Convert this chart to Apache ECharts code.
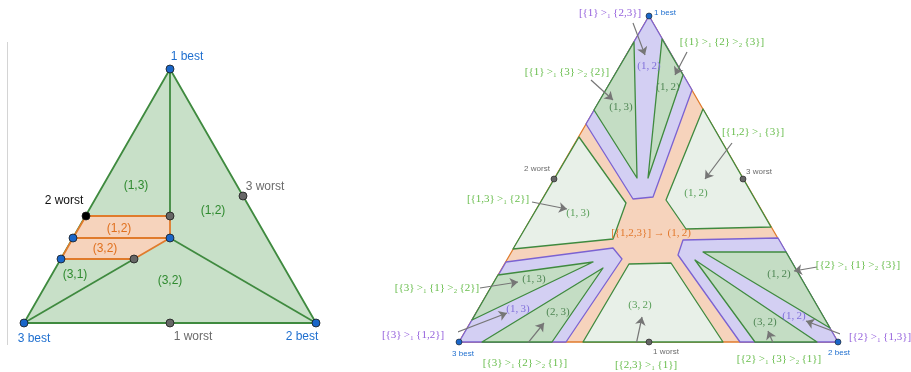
<!DOCTYPE html>
<html>
<head>
<meta charset="utf-8">
<script src="https://cdn.jsdelivr.net/npm/echarts@6/dist/echarts.min.js"></script>
<style>
html, body { margin: 0; padding: 0; background: #fff; }
#main { width: 911px; height: 372px; }
</style>
</head>
<body>
<div id="main"></div>
<script>
// Left panel: local coords, origin at "3 best", y up, 1 unit = 1px
var leftTriangle = [[0, 0], [292, 0], [146, 254]];
var leftTieRegion = [[62, 107], [146, 107], [146, 85], [110, 64], [37, 64], [49, 85]];
var leftBoundaries = [
    [[146, 254], [146, 107]],
    [[110, 64], [0, 0]],
    [[146, 85], [292, 0]]
];
var leftTieBoundary = [[49, 85], [146, 85]];
// [x, y, kind]
var leftPoints = [
    [146, 254, 'best'], [0, 0, 'best'], [292, 0, 'best'],
    [49, 85, 'best'], [37, 64, 'best'], [146, 85, 'best'],
    [219, 127, 'worst'], [146, 0, 'worst'], [146, 107, 'worst'], [110, 64, 'worst'],
    [62, 107, 'marked']
];
// [text, x, y, kind]
var leftLabels = [
    ['1 best', 163, 266, 'best'],
    ['2 worst', 40, 122, 'marked'],
    ['3 worst', 241, 136, 'worst'],
    ['(1,3)', 112, 137, 'region'],
    ['(1,2)', 189, 112, 'region'],
    ['(1,2)', 95, 94, 'tie'],
    ['(3,2)', 81, 74, 'tie'],
    ['(3,1)', 51, 48, 'region'],
    ['(3,2)', 146, 42, 'region'],
    ['3 best', 10, -16, 'best'],
    ['1 worst', 169, -14, 'worst'],
    ['2 best', 278, -14, 'best']
];

// Right panel: local coords, origin at "3 best", y up, 1 unit = 1px
var rightTriangle = [[0, 0], [379, 0], [190, 326]];
var rightRegions = [
    { kind: 'split', pts: [[190, 326], [127, 218], [174, 143], [194, 145], [233, 252]] },
    { kind: 'strict', pts: [[175, 300], [135, 232], [178, 164]] },
    { kind: 'strict', pts: [[203, 303], [224, 267], [189, 164]] },
    { kind: 'weak', pts: [[120, 205], [167, 139], [154, 103], [54, 93]] },
    { kind: 'weak', pts: [[244, 233], [207, 142], [227, 113], [312, 115]] },
    { kind: 'weak', pts: [[170, 78], [212, 79], [264, 0], [124, 0]] },
    { kind: 'split', pts: [[0, 0], [47, 80], [154, 94], [163, 83], [107, 0]] },
    { kind: 'strict', pts: [[13, 22], [39, 67], [134, 80]] },
    { kind: 'strict', pts: [[23, 0], [93, 0], [144, 74]] },
    { kind: 'split', pts: [[379, 0], [319, 104], [224, 102], [219, 87], [281, 0]] },
    { kind: 'strict', pts: [[244, 90], [327, 90], [371, 14]] },
    { kind: 'strict', pts: [[236, 82], [296, 0], [358, 0]] }
];
var rightPoints = [
    [190, 326, 'best'], [0, 0, 'best'], [379, 0, 'best'],
    [95, 163, 'worst'], [284, 163, 'worst'], [190, 0, 'worst']
];
var rightLabels = [
    ['[{1}\u2009>\u2081\u2009{2,3}]', 151, 329, 'split'],
    ['(1,\u20092)', 190, 276, 'splitIn'],
    ['[{1}\u2009>\u2081\u2009{2}\u2009>\u2082\u2009{3}]', 263, 300, 'pref'],
    ['(1,\u20092)', 209, 255, 'strictIn'],
    ['[{1}\u2009>\u2081\u2009{3}\u2009>\u2082\u2009{2}]', 108, 270, 'pref'],
    ['(1,\u20093)', 162, 235, 'strictIn'],
    ['[{1,2}\u2009>\u2081\u2009{3}]', 294, 210, 'pref'],
    ['(1,\u20092)', 237, 149, 'weakIn'],
    ['[{1,3}\u2009>\u2081\u2009{2}]', 39, 143, 'pref'],
    ['(1,\u20093)', 119, 129, 'weakIn'],
    ['[{1,2,3}] \u2192 (1,\u20092)', 192, 109, 'tieIn'],
    ['[{3}\u2009>\u2081\u2009{1}\u2009>\u2082\u2009{2}]', -22, 54, 'pref'],
    ['(1,\u20093)', 75, 63, 'strictIn'],
    ['(1,\u20093)', 59, 33, 'splitIn'],
    ['[{3}\u2009>\u2081\u2009{1,2}]', -46, 7, 'split'],
    ['(2,\u20093)', 99, 30, 'strictIn'],
    ['[{3}\u2009>\u2081\u2009{2}\u2009>\u2082\u2009{1}]', 66, -21, 'pref'],
    ['(3,\u20092)', 181, 37, 'weakIn'],
    ['[{2,3}\u2009>\u2081\u2009{1}]', 187, -23, 'pref'],
    ['(1,\u20092)', 320, 68, 'strictIn'],
    ['[{2}\u2009>\u2081\u2009{1}\u2009>\u2082\u2009{3}]', 399, 77, 'pref'],
    ['(1,\u20092)', 335, 26, 'splitIn'],
    ['[{2}\u2009>\u2081\u2009{1,3}]', 421, 5, 'split'],
    ['(3,\u20092)', 306, 20, 'strictIn'],
    ['[{2}\u2009>\u2081\u2009{3}\u2009>\u2082\u2009{1}]', 320, -17, 'pref'],
    ['1 best', 206, 329, 'best'],
    ['2 worst', 78, 173, 'worst'],
    ['3 worst', 300, 170, 'worst'],
    ['1 worst', 207, -10, 'worst'],
    ['3 best', 4, -12, 'best'],
    ['2 best', 380, -11, 'best']
];
var rightArrows = [
    [[174, 319], [186, 287]],
    [[228, 290], [216, 267]],
    [[132, 262], [154, 242]],
    [[273, 199], [246, 163]],
    [[73, 140], [108, 133]],
    [[21, 54], [59, 60]],
    [[-14, 5], [48, 29]],
    [[64, -7], [85, 19]],
    [[177, -3], [183, 25]],
    [[358, 75], [335, 71]],
    [[389, 5], [347, 21]],
    [[318, -10], [309, 11]]
];

var GREEN = '#3f8a3f';
var fills = { strict: '#c4ddc4', weak: '#e8f0e8', split: '#d3cff3', tie: '#f6d3bc', left: '#c8e0c8' };
var strokes = { strict: GREEN, weak: GREEN, split: '#7b62d2', tie: '#e07b2c', left: GREEN };
var textColors = {
    best: '#1f6fcf', worst: '#6b6b6b', marked: '#111', region: '#2f8a2f', tie: '#e0701e',
    pref: '#68bd4c', split: '#9460dc', strictIn: '#4f8654', weakIn: '#5a9f5a',
    splitIn: '#8070da', tieIn: '#e2782c'
};
var pointColors = { best: '#1a66c8', worst: '#666', marked: '#000' };

function polygonLayer(list, lineWidth) {
    return function (params, api) {
        var r = list[params.dataIndex];
        return {
            type: 'polygon',
            shape: { points: r.pts.map(function (p) { return api.coord(p); }) },
            style: { fill: fills[r.kind], stroke: strokes[r.kind], lineWidth: lineWidth, lineJoin: 'round' }
        };
    };
}

function textLayer(list, fontOf) {
    return function (params, api) {
        var t = list[params.dataIndex];
        var p = api.coord([t[1], t[2]]);
        return {
            type: 'text', x: p[0], y: p[1],
            style: {
                text: t[0], fill: textColors[t[3]], font: fontOf(t[3]),
                align: 'center', verticalAlign: 'middle', textAlign: 'center', textVerticalAlign: 'middle'
            }
        };
    };
}

function leftFont() { return '12px "Liberation Sans", Arial, sans-serif'; }
function rightFont(kind) {
    if (kind === 'best' || kind === 'worst') return '8px "Liberation Sans", Arial, sans-serif';
    return '11px "Liberation Serif", "DejaVu Serif", serif';
}

function pointData(list) {
    return list.map(function (p) {
        return { value: [p[0], p[1]], itemStyle: { color: pointColors[p[2]] } };
    });
}

var leftShapes = [{ kind: 'left', pts: leftTriangle }];
var leftTie = [{ kind: 'tie', pts: leftTieRegion }];
var rightBase = [{ kind: 'tie', pts: rightTriangle }];

var chart = echarts.init(document.getElementById('main'));
chart.setOption({
    animation: false,
    grid: [
        { left: 24, top: 63, width: 292, height: 260 },
        { left: 459, top: 16, width: 379, height: 326 }
    ],
    xAxis: [
        { gridIndex: 0, type: 'value', min: 0, max: 292, show: false },
        { gridIndex: 1, type: 'value', min: 0, max: 379, show: false }
    ],
    yAxis: [
        { gridIndex: 0, type: 'value', min: 0, max: 260, show: false },
        { gridIndex: 1, type: 'value', min: 0, max: 326, show: false }
    ],
    graphic: [{
        type: 'line', shape: { x1: 7.5, y1: 42, x2: 7.5, y2: 345 },
        style: { stroke: '#d4d4d4', lineWidth: 1 }
    }],
    series: [
        {
            type: 'custom', xAxisIndex: 0, yAxisIndex: 0, z: 1,
            data: leftShapes.map(function (r) { return r.pts[0]; }),
            renderItem: polygonLayer(leftShapes, 1.8)
        },
        {
            type: 'lines', coordinateSystem: 'cartesian2d', xAxisIndex: 0, yAxisIndex: 0, z: 2,
            data: leftBoundaries.map(function (c) { return { coords: c }; }),
            lineStyle: { color: GREEN, width: 1.8, opacity: 1 }
        },
        {
            type: 'custom', xAxisIndex: 0, yAxisIndex: 0, z: 3,
            data: leftTie.map(function (r) { return r.pts[0]; }),
            renderItem: polygonLayer(leftTie, 1.8)
        },
        {
            type: 'lines', coordinateSystem: 'cartesian2d', xAxisIndex: 0, yAxisIndex: 0, z: 4,
            data: [{ coords: leftTieBoundary }],
            lineStyle: { color: strokes.tie, width: 1.8, opacity: 1 }
        },
        {
            type: 'scatter', xAxisIndex: 0, yAxisIndex: 0, z: 5,
            symbolSize: 8, data: pointData(leftPoints),
            itemStyle: { borderColor: '#1b1b1b', borderWidth: 0.8, opacity: 1 }
        },
        {
            type: 'custom', xAxisIndex: 0, yAxisIndex: 0, z: 6,
            data: leftLabels.map(function (t) { return [t[1], t[2]]; }),
            renderItem: textLayer(leftLabels, leftFont)
        },
        {
            type: 'custom', xAxisIndex: 1, yAxisIndex: 1, z: 1,
            data: rightBase.map(function (r) { return r.pts[0]; }),
            renderItem: polygonLayer(rightBase, 1.3)
        },
        {
            type: 'custom', xAxisIndex: 1, yAxisIndex: 1, z: 2,
            data: rightRegions.map(function (r) { return r.pts[0]; }),
            renderItem: polygonLayer(rightRegions, 1.3)
        },
        {
            type: 'lines', coordinateSystem: 'cartesian2d', xAxisIndex: 1, yAxisIndex: 1, z: 3,
            data: rightArrows.map(function (c) { return { coords: c }; }),
            symbol: ['none', 'arrow'], symbolSize: 8,
            lineStyle: { color: '#767676', width: 1.2, opacity: 1 }
        },
        {
            type: 'scatter', xAxisIndex: 1, yAxisIndex: 1, z: 4,
            symbolSize: 6, data: pointData(rightPoints),
            itemStyle: { borderColor: '#1b1b1b', borderWidth: 0.6, opacity: 1 }
        },
        {
            type: 'custom', xAxisIndex: 1, yAxisIndex: 1, z: 5,
            data: rightLabels.map(function (t) { return [t[1], t[2]]; }),
            renderItem: textLayer(rightLabels, rightFont)
        }
    ]
});
</script>
</body>
</html>
